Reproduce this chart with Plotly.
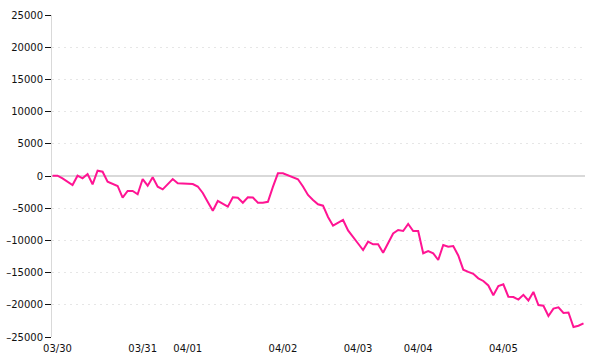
import plotly.graph_objects as go

values = [50, 50, -360, -900, -1400, 50, -360, 310, -1290, 820,
          670, -890, -1230, -1550, -3370, -2330, -2330, -2840, -470, -1510,
          -200, -1660, -2070, -1340, -470, -1130, -1160, -1190, -1240, -1630,
          -2640, -4040, -5390, -3880, -4350, -4770, -3310, -3370, -4150, -3310,
          -3340, -4150, -4150, -4000, -1700, 420, 420, 150, -120, -510,
          -1630, -2950, -3730, -4390, -4610, -6370, -7720, -7270, -6830, -8460,
          -9550, -10480, -11490, -10200, -10610, -10610, -11910, -10330, -8930, -8390,
          -8540, -7450, -8540, -8540, -12000, -11650, -12000, -13040, -10710, -10980,
          -10870, -12340, -14550, -14890, -15190, -15890, -16300, -17000, -18510, -17080,
          -16820, -18740, -18790, -19180, -18450, -19330, -18010, -20030, -20150, -21740,
          -20590, -20400, -21270, -21200, -23450, -23250, -22870]
index = list(range(len(values)))

tick_index = [1, 18, 27, 46, 61, 73, 90]
tick_labels = ["03/30", "03/31", "04/01", "04/02", "04/03", "04/04", "04/05"]
y_ticks = [-25000, -20000, -15000, -10000, -5000, 0, 5000, 10000, 15000, 20000, 25000]
y_labels = ["–25000", "–20000", "–15000", "–10000", "–5000", "0",
            "5000", "10000", "15000", "20000", "25000"]

fig = go.Figure()
fig.add_trace(go.Scatter(x=index, y=values, mode="lines",
                         line=dict(color="#ff1493", width=2),
                         hoverinfo="skip"))

fig.update_layout(
    width=600, height=360,
    margin=dict(l=52, r=15, t=15, b=23),
    paper_bgcolor="white", plot_bgcolor="white",
    showlegend=False,
    font=dict(family="DejaVu Sans", size=10, color="#111"),
)
fig.update_xaxes(
    range=[-0.1, 106.3], automargin=False,
    tickmode="array", tickvals=tick_index, ticktext=tick_labels,
    showgrid=False, zeroline=False, showline=False, ticks="",
    ticklabelstandoff=4,
    tickfont=dict(size=10, color="#111"),
)
fig.update_yaxes(
    range=[-25000, 25000], automargin=False,
    tickmode="array", tickvals=y_ticks, ticktext=y_labels,
    showgrid=True, gridcolor="#e6e6e6", griddash="2px,4px", gridwidth=1,
    zeroline=True, zerolinecolor="#d9d9d9", zerolinewidth=1.5,
    showline=True, linecolor="#d9d9d9", linewidth=1,
    ticks="outside", ticklen=6, tickcolor="#111", tickwidth=1,
    tickfont=dict(size=10, color="#111"),
)

fig.write_html("out.html")
